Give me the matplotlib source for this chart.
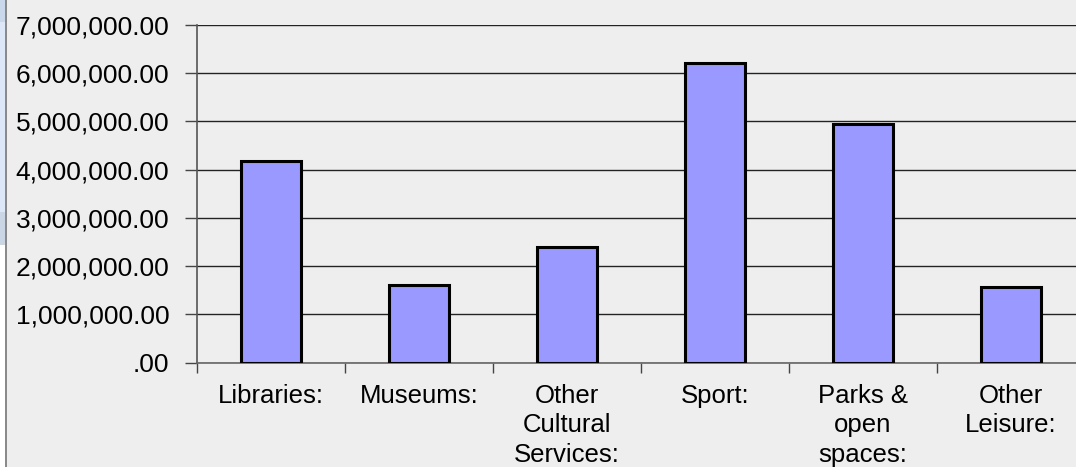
"""Leisure and culture spend by service, bar chart."""
import matplotlib
matplotlib.use("Agg")
import matplotlib.pyplot as plt
from matplotlib.patches import Rectangle
from matplotlib.ticker import FuncFormatter, MultipleLocator

categories = [
    "Libraries:",
    "Museums:",
    "Other\nCultural\nServices:",
    "Sport:",
    "Parks &\nopen\nspaces:",
    "Other\nLeisure:",
]
spend = [4_190_000, 1_610_000, 2_400_000, 6_220_000, 4_940_000, 1_560_000]

plt.rcParams["font.family"] = ["Liberation Sans", "DejaVu Sans"]

fig = plt.figure(figsize=(10.76, 4.67), dpi=100, facecolor="#eeeeee")
ax = fig.add_axes([0.1831, 0.2233, 0.8253, 0.7232])
ax.set_facecolor("#eeeeee")

# side panel strip and divider on the far left
for y0, h, c in [(0.952, 0.048, "#c9d8eb"), (0.546, 0.406, "#dce8f7"),
                 (0.475, 0.071, "#cad6e4"), (0.0, 0.475, "#ffffff")]:
    fig.patches.append(Rectangle((0, y0), 0.0045, h, transform=fig.transFigure,
                                 facecolor=c, edgecolor="none", zorder=0))
fig.patches.append(Rectangle((0.0045, 0), 0.0019, 1, transform=fig.transFigure,
                             facecolor="#8a8a8a", edgecolor="none", zorder=1))

x = range(len(categories))
ax.bar(x, spend, width=0.405, color="#9999ff", edgecolor="black",
       linewidth=2.2, zorder=3)

ax.set_xlim(-0.5, len(categories) - 0.5)
ax.set_ylim(0, 7_000_000)
ax.yaxis.set_major_locator(MultipleLocator(1_000_000))


def money(v, _pos):
    s = f"{v:,.2f}"
    return s[1:] if s.startswith("0.") else s


ax.yaxis.set_major_formatter(FuncFormatter(money))
ax.yaxis.grid(True, color="#222222", linewidth=1.0, zorder=1)
ax.set_axisbelow(True)

# category labels centred in slots, ticks on slot boundaries
ax.set_xticks(list(x))
ax.set_xticklabels(categories, fontsize=18.5, linespacing=1.3, va="top")
ax.tick_params(axis="x", length=0, pad=15)
ax.set_xticks([i - 0.5 for i in range(len(categories) + 1)], minor=True)
ax.tick_params(axis="x", which="minor", length=7, width=1.0, color="#444444")
ax.tick_params(axis="y", length=9, width=1.0, color="#444444",
               labelsize=19, pad=11)

for side in ("top", "right"):
    ax.spines[side].set_visible(False)
ax.spines["left"].set_color("#555555")
ax.spines["left"].set_linewidth(1.2)
ax.spines["bottom"].set_color("#666666")
ax.spines["bottom"].set_linewidth(1.2)

fig.savefig("out.png", dpi=100, facecolor=fig.get_facecolor())
